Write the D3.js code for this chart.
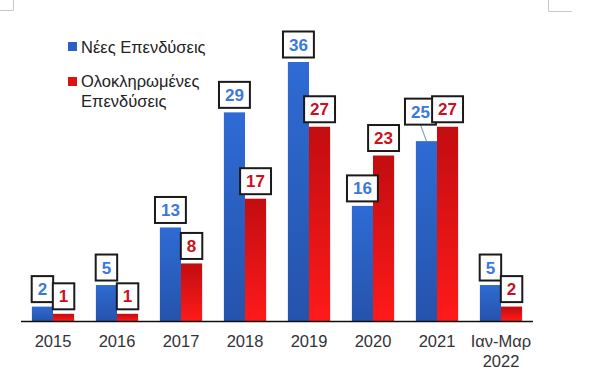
<!DOCTYPE html>
<html><head><meta charset="utf-8">
<script src="https://cdn.jsdelivr.net/npm/d3@7"></script>
<style>html,body{margin:0;padding:0;background:#fff;}svg{display:block;font-family:"Liberation Sans",Arial,sans-serif;}</style>
</head><body>
<svg id="c" width="600" height="383"></svg>
<script>
const categories = ["2015","2016","2017","2018","2019","2020","2021","Ιαν-Μαρ\n2022"];
const seriesNames = ["Νέες Επενδύσεις","Ολοκληρωμένες Επενδύσεις"];
const newInvestments = [2,5,13,29,36,16,25,5];
const completedInvestments = [1,1,8,17,27,23,27,2];

const svg = d3.select("#c");
const defs = svg.append("defs");
const gb = defs.append("linearGradient").attr("id","gBlue").attr("x1",0).attr("y1",0).attr("x2",0).attr("y2",1);
gb.append("stop").attr("offset","0%").attr("stop-color","#2f6bd4");
gb.append("stop").attr("offset","100%").attr("stop-color","#2553ac");
const gr = defs.append("linearGradient").attr("id","gRed").attr("x1",0).attr("y1",0).attr("x2",0).attr("y2",1);
gr.append("stop").attr("offset","0%").attr("stop-color","#c20d0f");
gr.append("stop").attr("offset","100%").attr("stop-color","#ff1a1a");

// page corner artifacts
svg.append("path").attr("d","M0,10.5H13.5V0").attr("fill","none").attr("stroke","#c8c8c8").attr("stroke-width",1);
svg.append("path").attr("d","M548.5,0V11.5H572").attr("fill","none").attr("stroke","#c8c8c8").attr("stroke-width",1);

const x0 = d3.scaleBand().domain(categories).range([21,533]).paddingInner(0.34).paddingOuter(0.17);
const x1 = d3.scaleBand().domain([0,1]).range([0,x0.bandwidth()]);
const y = d3.scaleLinear().domain([0,36]).range([321,62]);

const series = [
  {vals:newInvestments, fill:"url(#gBlue)", txt:"#3a78dc", legend:"#2a5fc4"},
  {vals:completedInvestments, fill:"url(#gRed)", txt:"#cc1020", legend:"#dd1111"}
];

series.forEach((s,si)=>{
  svg.append("g").selectAll("rect").data(categories).join("rect")
    .attr("x",c=>x0(c)+x1(si))
    .attr("width",x1.bandwidth())
    .attr("y",(c,i)=>y(s.vals[i]))
    .attr("height",(c,i)=>y(0)-y(s.vals[i]))
    .attr("fill",s.fill);
});

// axis baseline
svg.append("line").attr("x1",21).attr("x2",533).attr("y1",321.5).attr("y2",321.5).attr("stroke","#111").attr("stroke-width",1.6);

// category labels
const xl = svg.append("g").attr("font-size","16.5px").attr("fill","#333").attr("text-anchor","middle");
categories.forEach(c=>{
  const lines = c.split("\n");
  const t = xl.append("text").attr("x",x0(c)+x0.bandwidth()/2).attr("y",347);
  lines.forEach((l,k)=>t.append("tspan").attr("x",x0(c)+x0.bandwidth()/2).attr("dy",k?20:0).text(l));
});

// value label boxes
series.forEach((s,si)=>{
  categories.forEach((c,i)=>{
    const v = s.vals[i];
    let cx = x0(c)+x1(si)+x1.bandwidth()/2;
    let bottom = y(v)-4.5;
    const special = (si===0 && i===6);
    if(special){ cx -= 6; bottom -= 12; }
    const g = svg.append("g");
    const t = g.append("text").attr("x",cx).attr("y",bottom-7).attr("text-anchor","middle")
      .attr("font-size","17px").attr("font-weight","bold").attr("fill",s.txt).text(v);
    const w = t.node().getComputedTextLength()+12;
    if(special){
      svg.insert("line",":first-child").attr("x1",cx).attr("y1",bottom).attr("x2",cx+6).attr("y2",y(v))
        .attr("stroke","#8aa0c0").attr("stroke-width",1.2);
    }
    g.insert("rect","text").attr("x",cx-w/2).attr("y",bottom-26).attr("width",w).attr("height",26)
      .attr("fill","#fff").attr("stroke","#1a1a1a").attr("stroke-width",2);
  });
});

// legend
const lg = svg.append("g").attr("font-size","16.5px").attr("fill","#222");
lg.append("rect").attr("x",68).attr("y",42).attr("width",9).attr("height",9).attr("fill",series[0].legend);
lg.append("text").attr("x",81).attr("y",53).text(seriesNames[0]);
lg.append("rect").attr("x",68).attr("y",77).attr("width",9).attr("height",9).attr("fill",series[1].legend);
const parts = seriesNames[1].split(" ");
lg.append("text").attr("x",81).attr("y",87).text(parts[0]);
lg.append("text").attr("x",81).attr("y",107).text(parts[1]);
</script>
</body></html>
